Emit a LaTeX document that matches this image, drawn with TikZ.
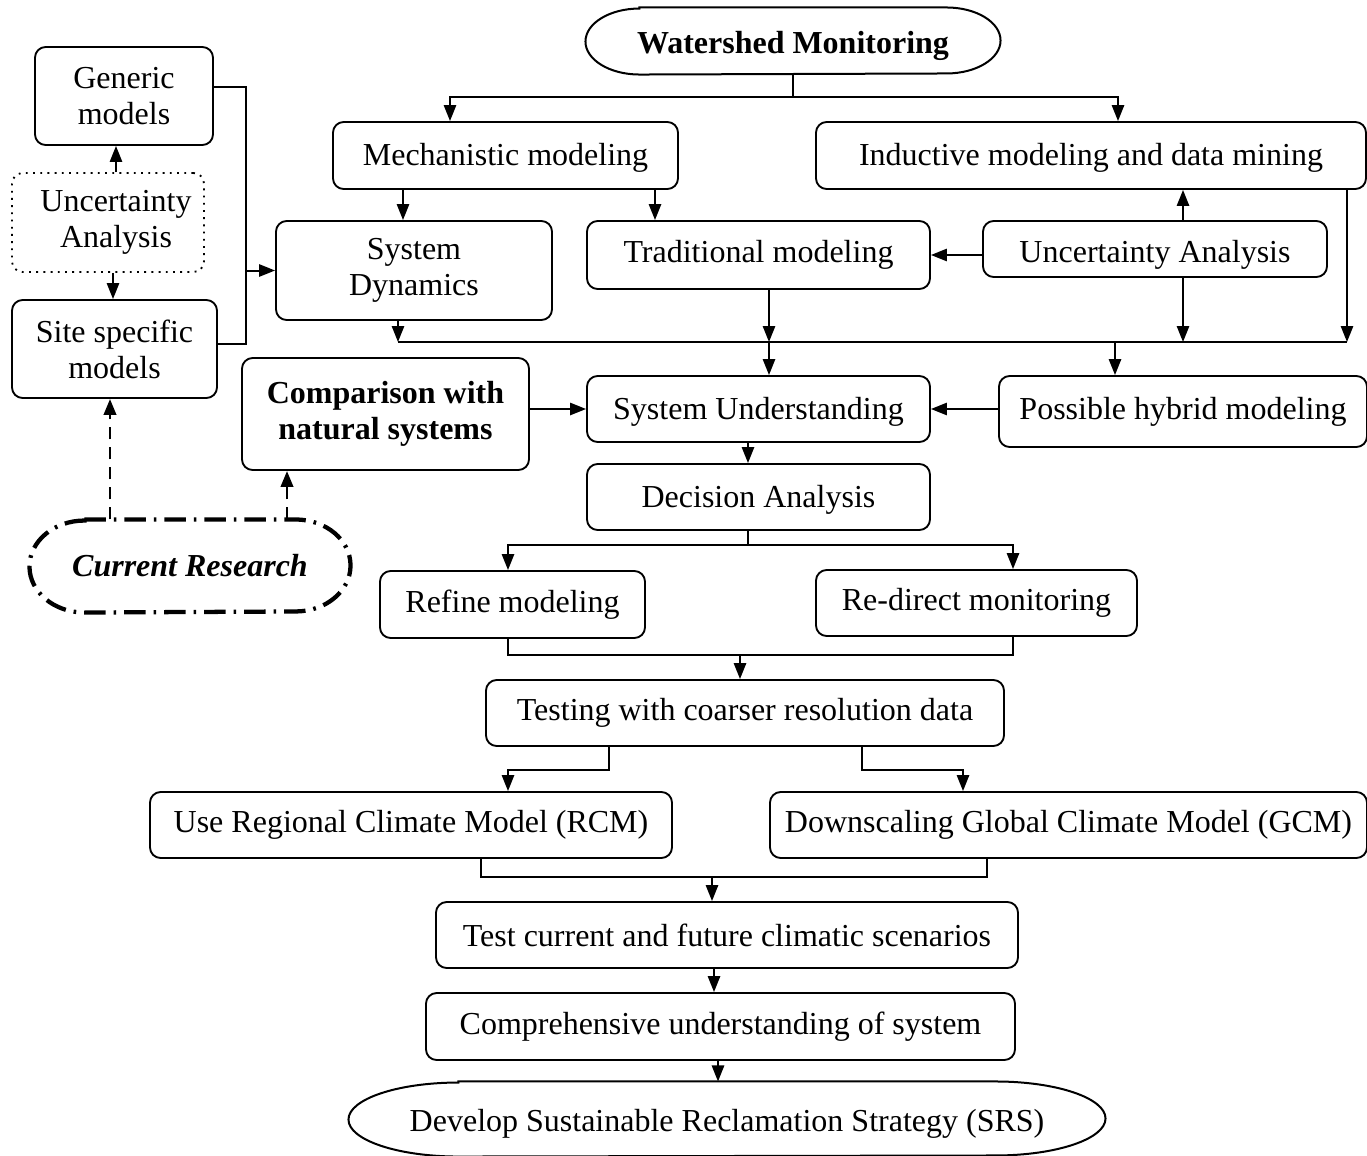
\documentclass[tikz,border=0pt]{standalone}
\usepackage{fontspec}
\setmainfont{Liberation Serif}
\usetikzlibrary{arrows.meta}
\newcommand{\pxu}{0.375pt}
\newcommand{\lowered}[2]{\raisebox{-#1}[\height][\depth]{#2}}

\begin{document}
\begin{tikzpicture}[x=0.375pt,y=-0.375pt,>={Triangle[length=6pt,width=4.6pt]},
    box/.style={draw,rounded corners=4pt,line width=0.7pt,align=center,inner sep=0pt,font=\fontsize{12}{13.5}\selectfont},
    plain/.style={align=center,inner sep=0pt,font=\fontsize{12}{13.5}\selectfont},
    wh/.style 2 args={minimum width=#1*\pxu,minimum height=#2*\pxu},
    line/.style={line width=0.75pt},
    arr/.style={->,line width=0.75pt},
    darr/.style={->,line width=1.1pt,dash pattern=on 4.5pt off 3pt}]

    \useasboundingbox (0,0) rectangle (1367,1156);

    \node[plain,wh={414}{66}] (wm) at (793,41) {\lowered{2pt}{\textbf{Watershed Monitoring}}};
    \node[box,wh={178}{98}] (gen) at (124,96) {Generic\\models};
    \node[box,wh={192}{99},dotted] (ual) at (108,222.5) {\hspace*{6pt}Uncertainty\\\hspace*{6pt}Analysis};
    \node[box,wh={205}{98}] (site) at (114.5,349) {Site specific\\models};
    \node[box,wh={345}{67}] (mech) at (505.5,155.5) {\lowered{1pt}{Mechanistic modeling}};
    \node[box,wh={550}{67}] (ind) at (1091,155.5) {\lowered{1pt}{Inductive modeling and data mining}};
    \node[box,wh={276}{99}] (sd) at (414,270.5) {System\\Dynamics};
    \node[box,wh={343}{68}] (trad) at (758.5,255) {Traditional modeling};
    \node[box,wh={344}{56}] (uar) at (1155,249) {\lowered{2.2pt}{Uncertainty Analysis}};
    \node[box,wh={287}{112}] (comp) at (385.5,414) {\textbf{Comparison with}\\\textbf{natural systems}};
    \node[box,wh={343}{66}] (su) at (758.5,409) {\lowered{1pt}{System Understanding}};
    \node[box,wh={368}{71}] (hyb) at (1183,411.5) {Possible hybrid modeling};
    \node[box,wh={343}{66}] (dec) at (758.5,497) {\lowered{1pt}{Decision Analysis}};
    \node[plain,wh={320}{92}] (cur) at (190,566) {\textbf{\textit{Current Research}}};
    \node[box,wh={265}{67}] (ref) at (512.5,604.5) {Refine modeling};
    \node[box,wh={321}{66}] (redir) at (976.5,603) {Re-direct monitoring};
    \node[box,wh={518}{66}] (test) at (745,713) {Testing with coarser resolution data};
    \node[box,wh={522}{66}] (rcm) at (411,825) {Use Regional Climate Model (RCM)};
    \node[box,wh={597}{66}] (gcm) at (1068.5,825) {Downscaling Global Climate Model (GCM)};
    \node[box,wh={582}{66}] (scen) at (727,935) {Test current and future climatic scenarios};
    \node[box,wh={589}{67}] (cus) at (720.5,1026.5) {Comprehensive understanding of system};
    \node[plain,wh={756}{74}] (srs) at (727,1119) {\lowered{2pt}{Develop Sustainable Reclamation Strategy (SRS)}};

    % oval frames
    \draw[line] ([xshift=54*\pxu]wm.north west) -- ([xshift=-54*\pxu]wm.north east)
        arc[start angle=90,end angle=-90,x radius=54*\pxu,y radius=33*\pxu]
        -- ([xshift=54*\pxu]wm.south west)
        arc[start angle=270,end angle=90,x radius=54*\pxu,y radius=33*\pxu] -- cycle;
    \draw[line] ([xshift=110*\pxu]srs.north west) -- ([xshift=-110*\pxu]srs.north east)
        arc[start angle=90,end angle=-90,x radius=110*\pxu,y radius=37*\pxu]
        -- ([xshift=110*\pxu]srs.south west)
        arc[start angle=270,end angle=90,x radius=110*\pxu,y radius=37*\pxu] -- cycle;
    \draw[line width=1.6pt,dash pattern=on 8pt off 3pt on 1pt off 3pt]
        ([xshift=55*\pxu]cur.north west) -- ([xshift=-55*\pxu]cur.north east)
        arc[start angle=90,end angle=-90,x radius=55*\pxu,y radius=46*\pxu]
        -- ([xshift=55*\pxu]cur.south west)
        arc[start angle=270,end angle=90,x radius=55*\pxu,y radius=46*\pxu] -- cycle;

    \coordinate (t1) at (450,97);
    \coordinate (t2) at (1118,97);
    \draw[arr] (wm.south) |- (t1) -- (mech.north -| t1);
    \draw[arr] (wm.south) |- (t2) -- (ind.north -| t2);

    \coordinate (m1) at (403,0);
    \coordinate (m2) at (655,0);
    \draw[arr] (mech.south -| m1) -- (sd.north -| m1);
    \draw[arr] (mech.south -| m2) -- (trad.north -| m2);

    \coordinate (b1) at (398,342);
    \coordinate (b2) at (769,342);
    \coordinate (b3) at (1115,342);
    \coordinate (b4) at (1183,342);
    \coordinate (b5) at (1347,342);
    \draw[line] (b1) -- (b5);
    \draw[arr] (uar.west |- trad.east) -- (trad.east);
    \draw[arr] (uar.north -| b4) -- (ind.south -| b4);
    \draw[arr] (uar.south -| b4) -- (b4);
    \draw[arr] (sd.south -| b1) -- (b1);
    \draw[arr] (trad.south -| b2) -- (b2);
    \draw[arr] (ind.south -| b5) -- (b5);
    \draw[arr] (b2) -- (su.north -| b2);
    \draw[arr] (b3) -- (hyb.north -| b3);
    \draw[arr] (hyb.west |- su.east) -- (su.east);
    \draw[arr] (comp.east |- su.west) -- (su.west);

    \coordinate (l1) at (116,0);
    \coordinate (l2) at (113,0);
    \coordinate (g1) at (246,87);
    \coordinate (g2) at (246,344);
    \draw[arr] (ual.north -| l1) -- (gen.south -| l1);
    \draw[arr] (ual.south -| l2) -- (site.north -| l2);
    \draw[line] (gen.east |- g1) -- (g1) -- (g2) -- (site.east |- g2);
    \draw[arr] (sd.west -| g1) -- (sd.west);

    \coordinate (c1) at (110,0);
    \coordinate (c2) at (287,0);
    \draw[darr] (cur.north -| c1) -- (site.south -| c1);
    \draw[darr] (cur.north -| c2) -- (comp.south -| c2);

    \coordinate (d0) at (748,545);
    \coordinate (d1) at (508,545);
    \coordinate (d2) at (1013,545);
    \draw[arr] (su.south -| d0) -- (dec.north -| d0);
    \draw[arr] (dec.south -| d0) |- (d1) -- (ref.north -| d1);
    \draw[arr] (dec.south -| d0) |- (d2) -- (redir.north -| d2);

    \coordinate (r0) at (740,655);
    \coordinate (r1) at (508,655);
    \coordinate (r2) at (1013,655);
    \draw[line] (ref.south -| r1) |- (r2) -- (redir.south -| r2);
    \draw[arr] (r0) -- (test.north -| r0);

    \coordinate (s1) at (609,770);
    \coordinate (s2) at (508,770);
    \coordinate (s3) at (862,770);
    \coordinate (s4) at (963,770);
    \draw[arr] (test.south -| s1) |- (s2) -- (rcm.north -| s2);
    \draw[arr] (test.south -| s3) |- (s4) -- (gcm.north -| s4);

    \coordinate (u0) at (712,877);
    \coordinate (u1) at (481,877);
    \coordinate (u2) at (987,877);
    \draw[line] (rcm.south -| u1) |- (u2) -- (gcm.south -| u2);
    \draw[arr] (u0) -- (scen.north -| u0);

    \coordinate (v1) at (714,0);
    \coordinate (v2) at (718,0);
    \draw[arr] (scen.south -| v1) -- (cus.north -| v1);
    \draw[arr] (cus.south -| v2) -- (srs.north -| v2);

\end{tikzpicture}
\end{document}
